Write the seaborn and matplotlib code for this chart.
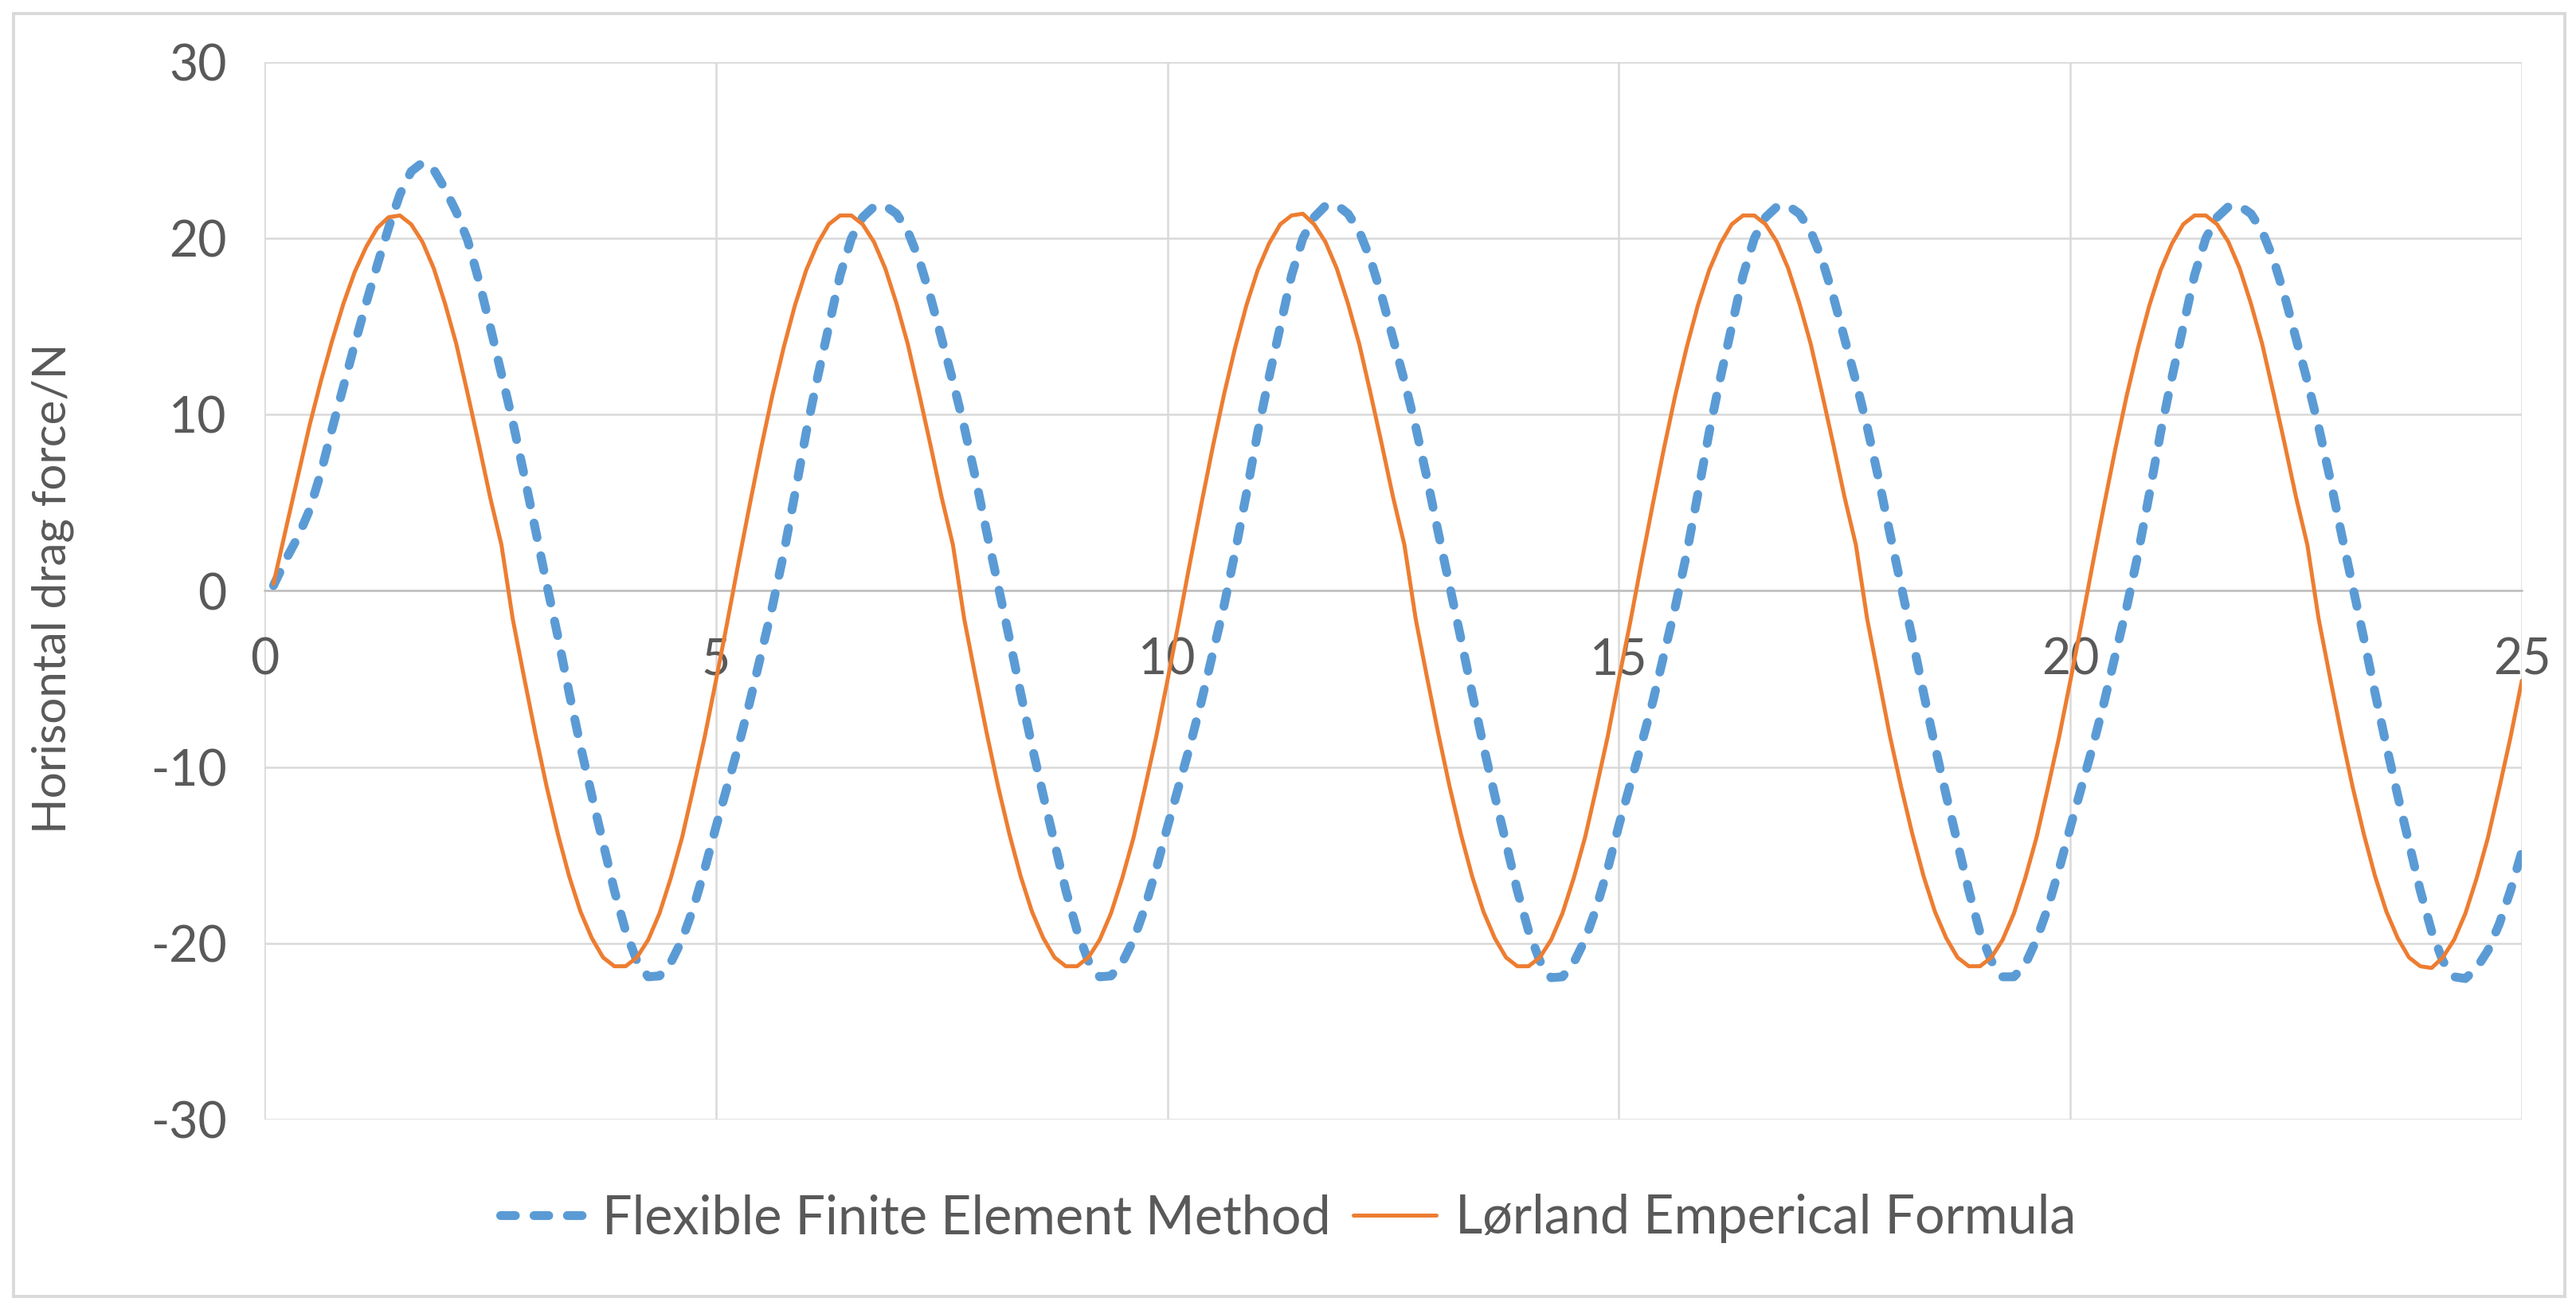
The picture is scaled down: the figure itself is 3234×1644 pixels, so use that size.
import numpy as np
import pandas as pd
import seaborn as sns
import matplotlib
matplotlib.use("Agg")
import matplotlib.pyplot as plt
from matplotlib.lines import Line2D
from matplotlib.patches import Rectangle

# ---------------- data ----------------
# time axis in s: first sample at 0.1 s, then every 0.125 s up to 25 s
time_s = np.concatenate([[0.1], np.arange(0.25, 25.001, 0.125)])

ffem_force = [
    # 0.1 .. 5.0
    0.3, 1.9, 3.1, 4.6, 6.7, 9.2, 11.6, 14.0,
    16.3, 18.5, 20.6, 22.5, 23.8, 24.3, 23.9, 22.8,
    21.5, 19.9, 17.6, 15.0, 12.3, 9.6, 6.6, 3.5,
    0.4, -2.6, -5.8, -8.8, -11.6, -14.3, -17.0, -19.3,
    -21.0, -21.9, -21.85, -21.1, -19.8, -18.0, -15.8, -13.4,
    # 5.125 .. 10.0
    -11.1, -8.8, -6.3, -3.6, -0.9, 2.1, 5.5, 9.0,
    12.1, 15.0, 17.9, 20.0, 21.2, 21.8, 21.85, 21.4,
    20.4, 18.8, 16.7, 14.3, 11.9, 9.3, 6.4, 3.3,
    0.3, -2.7, -5.8, -8.8, -11.6, -14.3, -17.0, -19.3,
    -21.0, -21.9, -21.85, -21.1, -19.8, -18.0, -15.8, -13.4,
    # 10.125 .. 15.0
    -11.1, -8.8, -6.3, -3.6, -0.9, 2.2, 5.5, 9.0,
    12.1, 15.0, 17.9, 20.0, 21.2, 21.85, 21.9, 21.4,
    20.4, 18.8, 16.7, 14.3, 11.9, 9.3, 6.4, 3.3,
    0.3, -2.7, -5.8, -8.8, -11.6, -14.3, -17.0, -19.3,
    -21.0, -21.95, -21.9, -21.1, -19.8, -18.0, -15.8, -13.3,
    # 15.125 .. 20.0
    -11.0, -8.7, -6.3, -3.6, -0.9, 2.1, 5.5, 9.0,
    12.1, 15.0, 17.9, 20.0, 21.2, 21.8, 21.85, 21.4,
    20.4, 18.8, 16.7, 14.3, 11.9, 9.3, 6.4, 3.3,
    0.3, -2.7, -5.8, -8.8, -11.6, -14.3, -17.0, -19.4,
    -21.0, -21.9, -21.9, -21.2, -19.8, -18.0, -15.8, -13.4,
    # 20.125 .. 25.0
    -11.1, -8.8, -6.3, -3.6, -0.9, 2.1, 5.5, 9.0,
    12.1, 15.0, 17.9, 20.0, 21.2, 21.8, 21.85, 21.4,
    20.4, 18.8, 16.7, 14.3, 11.9, 9.3, 6.4, 3.3,
    0.3, -2.7, -5.8, -8.8, -11.6, -14.3, -17.0, -19.3,
    -21.0, -21.9, -22.0, -21.4, -20.4, -18.9, -17.0, -14.8,
]

lorland_force = [
    # 0.1 .. 5.0
    0.4, 3.8, 6.6, 9.4, 11.9, 14.2, 16.3, 18.1,
    19.5, 20.6, 21.2, 21.3, 20.8, 19.8, 18.3, 16.3,
    14.0, 11.2, 8.3, 5.3, 2.6, -1.6, -4.9, -8.1,
    -11.1, -13.8, -16.2, -18.2, -19.7, -20.8, -21.3, -21.3,
    -20.8, -19.8, -18.3, -16.3, -14.0, -11.2, -8.3, -5.1,
    # 5.125 .. 10.0
    -1.8, 1.6, 4.9, 8.1, 11.1, 13.8, 16.2, 18.2,
    19.7, 20.8, 21.3, 21.3, 20.8, 19.8, 18.3, 16.3,
    14.0, 11.2, 8.3, 5.3, 2.6, -1.6, -4.9, -8.1,
    -11.1, -13.8, -16.2, -18.2, -19.7, -20.8, -21.3, -21.3,
    -20.8, -19.8, -18.3, -16.3, -14.0, -11.2, -8.3, -5.1,
    # 10.125 .. 15.0
    -1.8, 1.6, 4.9, 8.1, 11.1, 13.8, 16.2, 18.2,
    19.7, 20.8, 21.3, 21.4, 20.8, 19.8, 18.3, 16.3,
    14.0, 11.2, 8.3, 5.3, 2.6, -1.6, -4.9, -8.1,
    -11.1, -13.8, -16.2, -18.2, -19.7, -20.8, -21.3, -21.3,
    -20.8, -19.8, -18.3, -16.3, -14.0, -11.2, -8.3, -5.0,
    # 15.125 .. 20.0
    -1.8, 1.6, 4.9, 8.1, 11.1, 13.8, 16.2, 18.2,
    19.7, 20.8, 21.3, 21.3, 20.8, 19.8, 18.3, 16.3,
    14.0, 11.2, 8.3, 5.3, 2.6, -1.6, -4.9, -8.2,
    -11.1, -13.8, -16.2, -18.2, -19.7, -20.8, -21.3, -21.3,
    -20.8, -19.8, -18.3, -16.3, -14.0, -11.2, -8.3, -5.1,
    # 20.125 .. 25.0
    -1.8, 1.6, 4.9, 8.1, 11.1, 13.8, 16.2, 18.2,
    19.7, 20.8, 21.3, 21.3, 20.8, 19.8, 18.3, 16.3,
    14.0, 11.2, 8.3, 5.3, 2.6, -1.6, -4.9, -8.1,
    -11.1, -13.8, -16.2, -18.2, -19.7, -20.8, -21.3, -21.4,
    -20.8, -19.8, -18.3, -16.3, -14.0, -11.2, -8.3, -5.1,
]

series_names = ["Flexible Finite Element Method", "Lørland Emperical Formula"]
x_ticks = [0, 5, 10, 15, 20, 25]
y_ticks = [-30, -20, -10, 0, 10, 20, 30]
y_label = "Horisontal drag force/N"

df = pd.DataFrame({"time": time_s, "ffem": ffem_force, "lorland": lorland_force})

# ---------------- style ----------------
sns.set_theme(style="white")
plt.rcParams["font.family"] = ["Lato", "DejaVu Sans"]
plt.rcParams["axes.unicode_minus"] = False

TXT = "#595959"
GRID = "#D9D9D9"
BLUE = "#5B9BD5"
ORANGE = "#ED7D31"
BLUE_LW = 4.0
ORANGE_LW = 1.8
BLUE_DASH = (1.67, 2.1)

DPI = 200
W, H = 3234, 1644
fig = plt.figure(figsize=(W / DPI, H / DPI), dpi=DPI, facecolor="white")
ax = fig.add_axes([332 / W, 1 - 1405 / H, (3166 - 332) / W, (1405 - 78) / H])

sns.lineplot(data=df, x="time", y="ffem", ax=ax, color=BLUE, linewidth=BLUE_LW, sort=False)
sns.lineplot(data=df, x="time", y="lorland", ax=ax, color=ORANGE, linewidth=ORANGE_LW, sort=False)
l_blue, l_orange = ax.lines[0], ax.lines[1]
l_blue.set_dashes(BLUE_DASH)
l_blue.set_dash_capstyle("round")
l_blue.set_dash_joinstyle("round")
l_orange.set_solid_capstyle("round")
l_orange.set_solid_joinstyle("round")
l_blue.set_zorder(2)
l_orange.set_zorder(3)

ax.set_xlim(0, 25)
ax.set_ylim(-30, 30)
ax.set_xticks(x_ticks)
ax.set_yticks(y_ticks)
ax.set_xticklabels([str(v) for v in x_ticks])
ax.set_yticklabels([str(v) for v in y_ticks])
ax.set_xlabel("")
ax.set_ylabel(y_label, fontsize=21, color=TXT)
ax.yaxis.label.set_rotation_mode("default")
ax.yaxis.label.set_ha("center")
ax.yaxis.label.set_va("center")
ax.yaxis.set_label_coords((66 - 332) / (3166 - 332), (1405 - 738) / (1405 - 78))

ax.grid(True, color=GRID, linewidth=0.9)
ax.set_axisbelow(True)
for s in ["top", "right", "left"]:
    ax.spines[s].set_visible(False)
ax.spines["bottom"].set_position(("data", 0))
ax.spines["bottom"].set_color("#BFBFBF")
ax.spines["bottom"].set_linewidth(0.9)
ax.spines["bottom"].set_zorder(1)

ax.tick_params(axis="both", length=0, colors=TXT, labelsize=22.5)
ax.tick_params(axis="x", pad=21)
ax.tick_params(axis="y", pad=17)

# legend: size the text so the first entry spans the same width as in the chart
renderer = fig.canvas.get_renderer()
probe = fig.text(0, 0, series_names[0], fontsize=22)
w_probe = probe.get_window_extent(renderer).width
probe.remove()
leg_fs = float(np.clip(22 * 916 / w_probe, 22, 24.5))
fs_px = leg_fs * DPI / 72

h_blue = Line2D([], [], color=BLUE, linewidth=BLUE_LW, dashes=BLUE_DASH, dash_capstyle="round")
h_orange = Line2D([], [], color=ORANGE, linewidth=ORANGE_LW)
fig.legend([h_blue, h_orange], series_names, loc="center", bbox_to_anchor=(0.5, 1 - 1529 / H),
           ncol=2, frameon=False, fontsize=leg_fs, handlelength=104 / fs_px,
           handletextpad=24 / fs_px, columnspacing=28 / fs_px, labelcolor=TXT)

# outer chart border
fig.patches.append(Rectangle((17 / W, 1 - 1627 / H), (3220 - 17) / W, (1627 - 17) / H,
                             transform=fig.transFigure, fill=False, edgecolor=GRID, linewidth=1.4))

fig.savefig("out.png", dpi=DPI, facecolor="white")
